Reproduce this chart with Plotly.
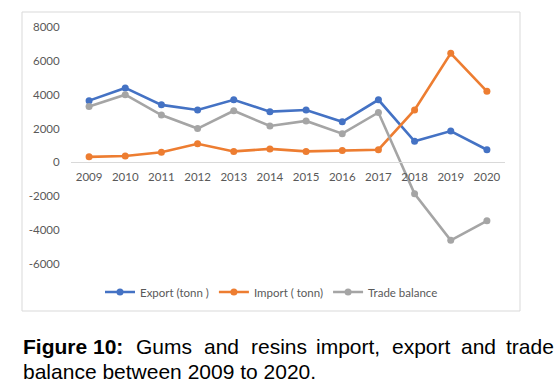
import plotly.graph_objects as go

years = ["2009", "2010", "2011", "2012", "2013", "2014", "2015", "2016", "2017", "2018", "2019", "2020"]
export_tonn = [3650, 4400, 3400, 3100, 3700, 3000, 3100, 2400, 3700, 1250, 1850, 750]
import_tonn = [330, 380, 600, 1100, 650, 800, 650, 700, 750, 3100, 6450, 4200]
trade_balance = [3300, 4000, 2800, 2000, 3050, 2150, 2450, 1700, 2950, -1850, -4600, -3450]
y_ticks = [-6000, -4000, -2000, 0, 2000, 4000, 6000, 8000]

W, H = 555, 392
L, R, T, B = 71, 505, 27, 264  # plot area in pixels


def px_x(x):
    return (x - L) / (R - L)


def px_y(y):
    return (B - y) / (B - T)


FONT = "Lato, Carlito, Calibri, sans-serif"
GRAY_TXT = "#595959"

fig = go.Figure()
series = [
    ("Export (tonn )", export_tonn, "#4472C4"),
    ("Import ( tonn)", import_tonn, "#ED7D31"),
    ("Trade balance", trade_balance, "#A5A5A5"),
]
for name, vals, col in series:
    fig.add_trace(go.Scatter(
        x=years, y=vals, name=name, mode="lines+markers",
        line=dict(color=col, width=2.6),
        marker=dict(color=col, size=7),
    ))

ymin, ymax = -6000, 8000
fig.update_layout(
    width=W, height=H,
    margin=dict(l=L, r=W - R, t=T, b=H - B),
    paper_bgcolor="white", plot_bgcolor="white",
    font=dict(family=FONT, size=11.5, color=GRAY_TXT),
    xaxis=dict(
        type="category", anchor="free", position=(0 - ymin) / (ymax - ymin),
        showline=True, linecolor="#d9d9d9", linewidth=1,
        showgrid=False, zeroline=False, automargin=False,
        ticks="outside", ticklen=4, tickcolor="rgba(0,0,0,0)",
        tickfont=dict(family=FONT, size=11.5, color=GRAY_TXT),
        range=[-0.5, len(years) - 0.5],
    ),
    yaxis=dict(
        range=[ymin, ymax], tickvals=y_ticks, ticktext=[str(v) for v in y_ticks],
        automargin=False,
        showgrid=False, zeroline=False, showline=False,
        ticks="outside", ticklen=8, tickcolor="rgba(0,0,0,0)",
        tickfont=dict(family=FONT, size=11.5, color=GRAY_TXT),
    ),
    legend=dict(
        orientation="h", x=px_x(100), xanchor="left",
        y=px_y(292), yanchor="middle",
        font=dict(family=FONT, size=11.5, color=GRAY_TXT),
        bgcolor="rgba(0,0,0,0)", itemwidth=30,
    ),
    showlegend=True,
)

# chart frame
fig.add_shape(type="rect", xref="paper", yref="paper",
              x0=px_x(22), x1=px_x(520), y0=px_y(311), y1=px_y(12),
              line=dict(color="#d9d9d9", width=1), layer="below")

# caption (justified first line)
cap_font = dict(family="Liberation Sans, Arial, sans-serif", size=21, color="#000000")
line1 = [("<b>Figure 10:</b>", 22), ("Gums", 135), ("and", 203), ("resins", 250),
         ("import,", 315), ("export", 391), ("and", 460), ("trade", 505)]
for txt, x in line1:
    fig.add_annotation(text=txt, xref="paper", yref="paper", x=px_x(x), y=px_y(346),
                       xanchor="left", yanchor="middle", showarrow=False,
                       font=cap_font, borderpad=0)
fig.add_annotation(text="balance between 2009 to 2020.", xref="paper", yref="paper",
                   x=px_x(22), y=px_y(371), xanchor="left", yanchor="middle",
                   showarrow=False, font=cap_font, borderpad=0)

fig.write_html("out.html", config={"displayModeBar": False},
               post_script="document.body.style.margin='0';document.body.style.padding='0';")
